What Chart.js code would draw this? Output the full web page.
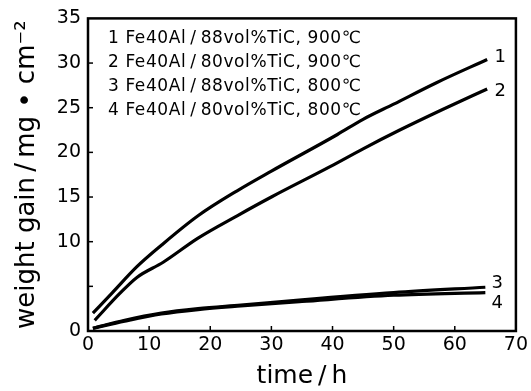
<!DOCTYPE html>
<html><head><meta charset="utf-8">
<script src="https://cdn.jsdelivr.net/npm/chart.js@4.4.0/dist/chart.umd.min.js"></script>
<style>html,body{margin:0;padding:0;background:#fff;}#wrap{width:531px;height:391px;}</style>
</head><body><div id="wrap"><canvas id="c" width="531" height="391"></canvas></div>
<script>
const seriesNames = ["1 Fe40Al\u2009/\u200988vol%TiC, 900℃","2 Fe40Al\u2009/\u200980vol%TiC, 900℃","3 Fe40Al\u2009/\u200988vol%TiC, 800℃","4 Fe40Al\u2009/\u200980vol%TiC, 800℃"];
const curveLabels = ["1","2","3","4"];
const x1 = [0.8, 4, 8, 12, 18, 24.4, 30, 40.8, 45, 50, 57, 65.3];
const y1 = [2.0, 4.3, 7.2, 9.6, 12.9, 15.7, 17.9, 22.0, 23.7, 25.4, 27.8, 30.4];
const x2 = [1.1, 5.2, 8, 12.3, 18, 24.4, 30, 39.6, 45, 51, 58, 65.3];
const y2 = [1.2, 4.2, 6.0, 7.7, 10.4, 12.9, 15.0, 18.4, 20.4, 22.5, 24.8, 27.1];
const x3 = [0.8, 6, 12, 18, 25, 35, 50, 65];
const y3 = [0.3, 1.2, 2.0, 2.5, 2.9, 3.5, 4.3, 4.9];
const x4 = [0.8, 6, 12, 18, 25, 35, 50, 65];
const y4 = [0.3, 1.1, 1.9, 2.4, 2.8, 3.3, 4.0, 4.3];
const xTicks = [0,10,20,30,40,50,60,70];
const yTicks = [0,5,10,15,20,25,30,35];
const yTickLabels = ["0","","10","15","20","25","30","35"];

const FONT = "'DejaVu Sans', sans-serif";
function pts(xs, ys){ return xs.map((x,i)=>({x:x, y:ys[i]})); }
const labelOffsets = [[13,-2],[13,2],[12,-4],[12,11]];

const boxPlugin = {
  id:'box',
  afterDraw(chart){
    const {ctx, chartArea:a, scales:{x, y}} = chart;
    ctx.save();
    ctx.strokeStyle='#000'; ctx.lineWidth=2.5;
    ctx.strokeRect(a.left, a.top, a.right-a.left, a.bottom-a.top);
    ctx.lineWidth=1.5;
    xTicks.forEach(v=>{ const px=x.getPixelForValue(v); if(v>0&&v<70){ctx.beginPath();ctx.moveTo(px,a.bottom);ctx.lineTo(px,a.bottom-5);ctx.stroke();}});
    yTicks.forEach(v=>{ const py=y.getPixelForValue(v); if(v>0&&v<35){ctx.beginPath();ctx.moveTo(a.left,py);ctx.lineTo(a.left+5,py);ctx.stroke();}});
    // legend text
    ctx.fillStyle='#000'; ctx.font='17px '+FONT; ctx.textBaseline='middle'; ctx.textAlign='left';
    try { ctx.letterSpacing='0.6px'; } catch(e){}
    seriesNames.forEach((t,i)=>{ ctx.fillText(t, a.left+20, a.top+20+i*24.2); });
    try { ctx.letterSpacing='0px'; } catch(e){}
    // curve end labels
    ctx.font='18px '+FONT; ctx.textAlign='center';
    chart.data.datasets.forEach((ds,i)=>{
      const last = ds.data[ds.data.length-1];
      const px = x.getPixelForValue(last.x)+labelOffsets[i][0];
      const py = y.getPixelForValue(last.y)+labelOffsets[i][1];
      ctx.fillText(curveLabels[i], px, py);
    });
    ctx.restore();
  }
};

const mk = (d)=>({data:d, borderColor:'#000', borderWidth:3.2, pointRadius:0, fill:false, cubicInterpolationMode:'monotone'});

new Chart(document.getElementById('c'), {
  type:'line',
  data:{ datasets:[mk(pts(x1,y1)), mk(pts(x2,y2)), mk(pts(x3,y3)), mk(pts(x4,y4))] },
  options:{
    responsive:false, animation:false,
    layout:{padding:{top:16, right:15, left:0, bottom:0}},
    plugins:{legend:{display:false}, tooltip:{enabled:false}},
    scales:{
      x:{type:'linear', min:0, max:70,
        afterBuildTicks(s){ s.ticks = xTicks.map(v=>({value:v})); },
        afterFit(s){ s.height = 60; },
        grid:{display:false, drawTicks:false}, border:{display:false},
        ticks:{color:'#000', font:{family:FONT, size:19}, padding:3, maxRotation:0, autoSkip:false},
        title:{display:true, text:'time\u2009/\u2009h', color:'#000', font:{family:FONT, size:25}, padding:{top:0,bottom:0}}
      },
      y:{type:'linear', min:0, max:35,
        afterBuildTicks(s){ s.ticks = yTicks.map(v=>({value:v})); },
        afterFit(s){ s.width = 88; },
        grid:{display:false, drawTicks:false}, border:{display:false},
        ticks:{color:'#000', font:{family:FONT, size:19}, padding:7, autoSkip:false,
          callback:(v)=>{ const i=yTicks.indexOf(v); return i>=0?yTickLabels[i]:''; }},
        title:{display:true, text:'weight gain\u2009/\u2009mg • cm⁻²', color:'#000', font:{family:FONT, size:26}, padding:{top:12,bottom:0}}
      }
    }
  },
  plugins:[boxPlugin]
});
</script></body></html>
